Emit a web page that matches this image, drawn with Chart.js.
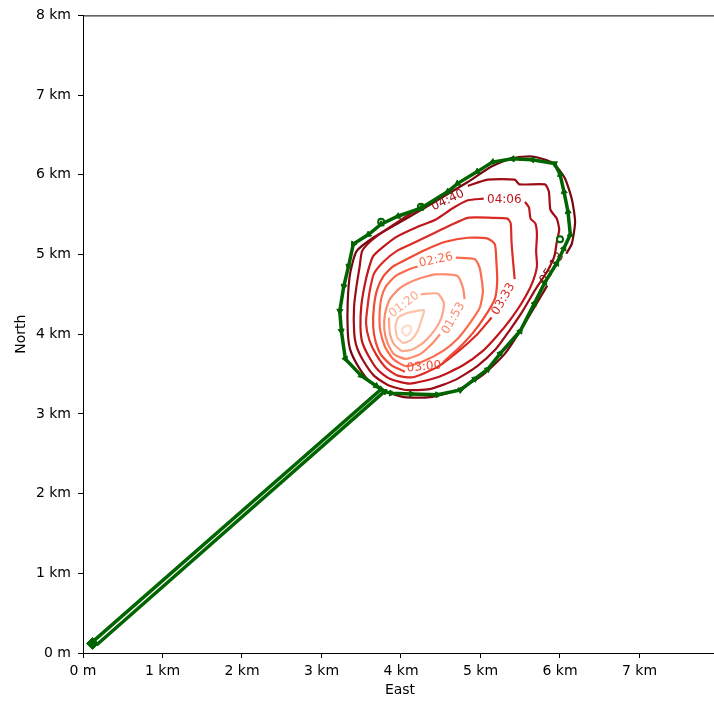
<!DOCTYPE html>
<html>
<head>
<meta charset="utf-8">
<script src="https://cdn.jsdelivr.net/npm/chart.js@4/dist/chart.umd.min.js"></script>
<style>
  html, body { margin: 0; padding: 0; background: #fff; overflow: hidden; }
  canvas { display: block; }
</style>
</head>
<body>
<canvas id="chart" width="724" height="704"></canvas>
<script>
// contour levels, inner to outer (travel time hh:mm)
const levelNames = ['00:13', '00:46', '01:20', '01:53', '02:26', '03:00', '03:33', '04:06', '04:40', '05:13'];

// contour lines, [east km, north km]; each starts right after its label gap
const c0013 = [[4.01,4.03],[4.03,4.09],[4.09,4.11],[4.13,4.08],[4.11,4.01],[4.06,3.98],[4.01,4.03]];
const c0046 = [[3.95,3.96],[3.93,4.09],[3.96,4.2],[4.06,4.26],[4.19,4.29],[4.29,4.3],[4.26,4.19],[4.21,4.04],[4.13,3.93],[4.03,3.89],[3.95,3.96]];
const c0120 = [[4.25,4.5],[4.46,4.51],[4.54,4.39],[4.51,4.21],[4.43,4.06],[4.3,3.91],[4.15,3.81],[4.01,3.79],[3.91,3.88],[3.86,4.01],[3.85,4.14],[3.85,4.21]];
const c0153 = [[4.49,4.0],[4.4,3.89],[4.24,3.75],[4.06,3.69],[3.91,3.75],[3.83,3.89],[3.79,4.06],[3.8,4.26],[3.86,4.44],[3.99,4.58],[4.18,4.68],[4.43,4.75],[4.71,4.73],[4.78,4.58],[4.8,4.44]];
const c0226 = [[4.69,4.96],[4.93,4.94],[4.99,4.83],[5.03,4.54],[4.99,4.33],[4.86,4.13],[4.71,3.94],[4.53,3.79],[4.28,3.66],[4.06,3.6],[3.9,3.69],[3.8,3.84],[3.74,4.04],[3.73,4.23],[3.75,4.44],[3.81,4.6],[3.93,4.73],[4.09,4.81],[4.21,4.85]];
const c0300 = [[4.05,3.53],[3.88,3.61],[3.75,3.74],[3.68,3.91],[3.65,4.1],[3.66,4.35],[3.7,4.56],[3.78,4.73],[3.9,4.85],[4.09,4.95],[4.31,5.06],[4.56,5.16],[4.84,5.21],[5.09,5.2],[5.18,5.13],[5.2,4.91],[5.21,4.66],[5.18,4.44],[5.06,4.23],[4.9,4.01],[4.71,3.81],[4.53,3.65]];
const c0333 = [[5.14,4.21],[4.96,4.0],[4.75,3.81],[4.46,3.59],[4.15,3.46],[3.96,3.48],[3.81,3.58],[3.69,3.74],[3.6,3.93],[3.56,4.14],[3.58,4.35],[3.61,4.56],[3.66,4.76],[3.78,4.91],[3.94,5.04],[4.15,5.14],[4.4,5.26],[4.61,5.36],[4.84,5.46],[5.15,5.46],[5.34,5.45],[5.38,5.39],[5.39,5.16],[5.41,4.91],[5.43,4.69]];
const c0406 = [[5.56,5.66],[5.61,5.59],[5.63,5.45],[5.69,5.39],[5.71,5.25],[5.7,5.04],[5.71,4.85],[5.65,4.64],[5.53,4.41],[5.38,4.19],[5.21,3.98],[5.03,3.79],[4.78,3.61],[4.46,3.46],[4.11,3.38],[3.86,3.44],[3.71,3.55],[3.59,3.73],[3.51,3.91],[3.49,4.1],[3.5,4.35],[3.54,4.6],[3.59,4.81],[3.65,4.98],[3.78,5.1],[3.96,5.23],[4.19,5.34],[4.44,5.44],[4.65,5.58],[4.84,5.68],[5.04,5.7]];
const c0440 = [[4.84,5.86],[5.09,5.94],[5.43,5.94],[5.49,5.88],[5.81,5.88],[5.86,5.79],[5.88,5.56],[5.96,5.45],[5.99,5.31],[5.96,5.16],[5.93,4.98],[5.84,4.79],[5.69,4.56],[5.53,4.29],[5.36,4.04],[5.19,3.81],[4.96,3.6],[4.69,3.43],[4.36,3.31],[4.06,3.3],[3.84,3.36],[3.66,3.48],[3.53,3.66],[3.44,3.85],[3.41,4.04],[3.41,4.35],[3.44,4.6],[3.48,4.85],[3.51,5.04],[3.61,5.16],[3.78,5.29],[3.96,5.41],[4.15,5.53],[4.31,5.59]];
const c0513 = [[5.84,4.61],[5.56,4.14],[5.31,3.76],[5.03,3.49],[4.71,3.3],[4.36,3.21],[4.04,3.21],[3.81,3.28],[3.61,3.4],[3.46,3.6],[3.36,3.81],[3.33,4.04],[3.33,4.41],[3.36,4.76],[3.44,5.04],[3.65,5.21],[3.94,5.38],[4.24,5.55],[4.54,5.73],[4.84,5.91],[5.15,6.11],[5.4,6.21],[5.65,6.23],[5.91,6.15],[6.06,5.96],[6.15,5.69],[6.19,5.41],[6.15,5.14],[6.08,5.01]];
const contours = [c0013, c0046, c0120, c0153, c0226, c0300, c0333, c0406, c0440, c0513];

// inline contour labels
const labelText  = ['01:20', '01:53', '02:26', '03:00', '03:33', '04:06', '04:40', '05:13'];
const labelEast  = [4.04, 4.66, 4.44, 4.29, 5.29, 5.3, 4.59, 5.9];
const labelNorth = [4.37, 4.2, 4.93, 3.59, 4.44, 5.69, 5.68, 4.83];

// track: out along the road, one lap round the area, back again
const track = [
  [0.17,0.1],[3.79,3.28],[3.88,3.26],[4.13,3.25],[4.46,3.24],[4.75,3.3],[4.93,3.44],[5.09,3.56],
  [5.25,3.76],[5.5,4.04],[5.68,4.39],[5.81,4.65],[5.96,4.89],[6.05,5.08],[6.13,5.25],[6.1,5.54],
  [6.05,5.79],[6.0,6.01],[5.93,6.14],[5.65,6.19],[5.4,6.2],[5.15,6.16],[4.96,6.04],[4.71,5.89],
  [4.59,5.79],[4.25,5.58],[3.96,5.48],[3.75,5.38],[3.59,5.25],[3.4,5.13],[3.34,4.85],[3.28,4.6],
  [3.23,4.29],[3.25,4.04],[3.3,3.69],[3.5,3.48],[3.69,3.35],[3.75,3.31],[0.12,0.14]
];
const startPoint = [[0.12,0.12]];
const stops = [[3.75,5.41],[4.25,5.6],[6.0,5.19]];

const xTicks = [0, 1, 2, 3, 4, 5, 6, 7];
const yTicks = [0, 1, 2, 3, 4, 5, 6, 7, 8];

const contourColors = ['#fddccd', '#fcc2aa', '#fca88b', '#fb8b6b', '#fa6c4d', '#f04a35', '#da2b25', '#c0151b', '#9e0d15', '#770611'];
const labelColors = contourColors.slice(2);
const labelAngles = [-38, -60, -12, -5, -60, 0, -25, -57];
const green = '#006400';

const toXY = arr => arr.map(p => ({x: p[0], y: p[1]}));
const kmLabel = v => v === 0 ? '0 m' : v + ' km';

const datasets = [];
datasets.push({
    data: toXY(track),
    showLine: true,
    borderColor: green,
    borderWidth: 3.5,
    order: 0,
    pointStyle: 'triangle',
    pointBackgroundColor: green,
    pointBorderColor: green,
    pointBorderWidth: 1,
    pointRadius: ctx => (ctx.dataIndex === 0 || ctx.dataIndex === track.length - 1) ? 0 : 3.5,
    pointRotation: ctx => {
        const i = ctx.dataIndex;
        const a = track[Math.max(i - 1, 0)], b = track[Math.min(i + 1, track.length - 1)];
        return Math.atan2(b[0] - a[0], b[1] - a[1]) * 180 / Math.PI;
    }
});
datasets.push({
    data: toXY(startPoint),
    order: 0,
    pointStyle: 'rectRot',
    pointRadius: 6,
    backgroundColor: green,
    borderColor: green
});
datasets.push({
    data: toXY(stops),
    order: 0,
    pointStyle: 'circle',
    pointRadius: 3,
    borderWidth: 2,
    backgroundColor: '#fff',
    borderColor: green
});
contours.forEach((c, i) => {
    datasets.push({
        label: levelNames[i],
        data: toXY(c),
        showLine: true,
        borderColor: contourColors[i],
        borderWidth: 2.2,
        tension: 0.2,
        pointRadius: 0,
        order: 1
    });
});

// contour labels go on after the contours, under the track
let labelsDone = false;
const contourLabels = {
    id: 'contourLabels',
    beforeDraw() { labelsDone = false; },
    beforeDatasetDraw(chart, args) {
        if (labelsDone || args.meta.order !== 0) return;
        labelsDone = true;
        const ctx = chart.ctx;
        const xs = chart.scales.x, ys = chart.scales.y;
        ctx.save();
        ctx.font = '12px "DejaVu Sans"';
        ctx.textAlign = 'center';
        ctx.textBaseline = 'middle';
        labelText.forEach((t, i) => {
            ctx.save();
            ctx.translate(xs.getPixelForValue(labelEast[i]), ys.getPixelForValue(labelNorth[i]));
            ctx.rotate(labelAngles[i] * Math.PI / 180);
            ctx.fillStyle = labelColors[i];
            ctx.fillText(t, 0, 0);
            ctx.restore();
        });
        ctx.restore();
    },
    afterDraw(chart) {
        const {ctx, chartArea} = chart;
        ctx.save();
        ctx.strokeStyle = '#000';
        ctx.lineWidth = 1;
        ctx.beginPath();
        ctx.moveTo(chartArea.left, chartArea.top + 0.5);
        ctx.lineTo(chartArea.right, chartArea.top + 0.5);
        ctx.lineTo(chartArea.right - 0.5, chartArea.bottom);
        ctx.stroke();
        ctx.restore();
    }
};

const tickFont = {family: 'DejaVu Sans', size: 14};

new Chart(document.getElementById('chart'), {
    type: 'scatter',
    data: {datasets: datasets},
    options: {
        responsive: false,
        animation: false,
        devicePixelRatio: 1,
        layout: {padding: {top: 13, right: 3, left: 0, bottom: 0}},
        plugins: {legend: {display: false}, tooltip: {enabled: false}},
        scales: {
            x: {
                type: 'linear',
                min: 0,
                max: 7.975,
                afterFit: s => { s.height = 51; },
                afterBuildTicks: s => { s.ticks = xTicks.map(v => ({value: v})); },
                ticks: {color: '#000', font: tickFont, padding: 5, maxRotation: 0, callback: kmLabel},
                grid: {drawOnChartArea: false, drawTicks: true, tickLength: 5, color: '#000'},
                border: {display: true, color: '#000', width: 1},
                title: {display: true, text: 'East', color: '#000', font: tickFont, padding: {top: 0, bottom: 5}}
            },
            y: {
                type: 'linear',
                min: 0,
                max: 8,
                afterFit: s => { s.width = 83; },
                afterBuildTicks: s => { s.ticks = yTicks.map(v => ({value: v})); },
                ticks: {color: '#000', font: tickFont, padding: 7, callback: kmLabel},
                grid: {drawOnChartArea: false, drawTicks: true, tickLength: 5, color: '#000'},
                border: {display: true, color: '#000', width: 1},
                title: {display: true, text: 'North', color: '#000', font: tickFont, padding: {top: 13, bottom: 0}}
            }
        }
    },
    plugins: [contourLabels]
});
</script>
</body>
</html>
